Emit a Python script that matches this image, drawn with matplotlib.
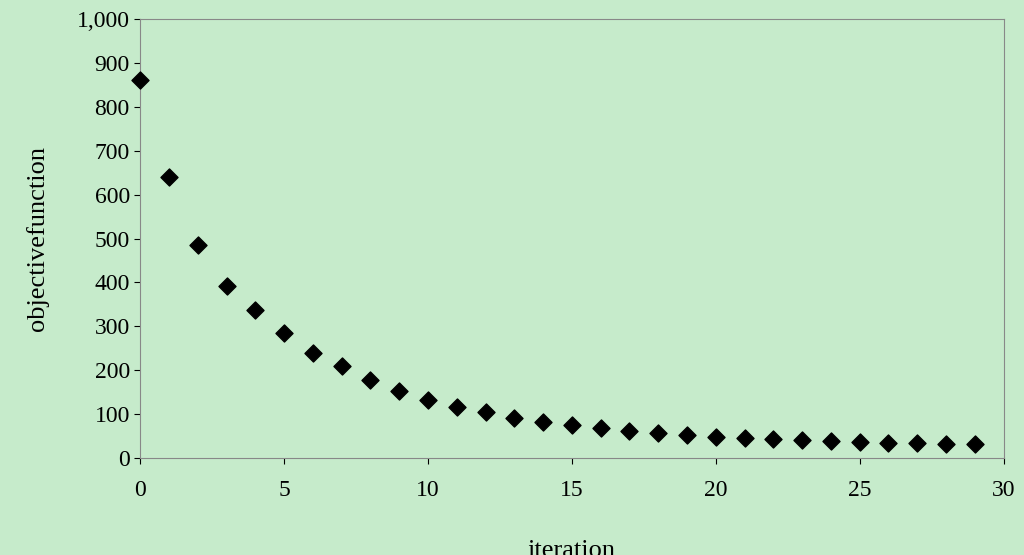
import matplotlib
matplotlib.use("Agg")
import matplotlib.pyplot as plt
from matplotlib.ticker import FuncFormatter

plt.rcParams["font.family"] = ["Liberation Serif", "DejaVu Serif"]

iteration = list(range(30))
objective = [862, 640, 485, 392, 337, 285, 239, 210, 178, 153,
             132, 116, 105, 91, 82, 75, 68, 62, 57, 52,
             48, 45, 43, 41, 39, 36, 34, 33, 32, 31]

bg = "#c6ebcb"
fig = plt.figure(figsize=(10.24, 5.55), dpi=100, facecolor=bg)
ax = fig.add_axes([0.137, 0.175, 0.843, 0.79], facecolor=bg)

ax.scatter(iteration, objective, marker="D", s=75, color="black", zorder=3, clip_on=False)

ax.set_xlim(0, 30)
ax.set_ylim(0, 1000)
ax.set_xticks(range(0, 31, 5))
ax.set_yticks(range(0, 1001, 100))
ax.yaxis.set_major_formatter(FuncFormatter(lambda v, p: f"{int(v):,}"))
ax.tick_params(labelsize=17, direction="out", length=4)
ax.tick_params(axis="x", pad=12)
for s in ax.spines.values():
    s.set_color("#888888")

ax.set_xlabel("iteration", fontsize=19, labelpad=28)
ax.set_ylabel("objectivefunction", fontsize=19, labelpad=20)

fig.savefig("out.png", dpi=100, facecolor=bg)
